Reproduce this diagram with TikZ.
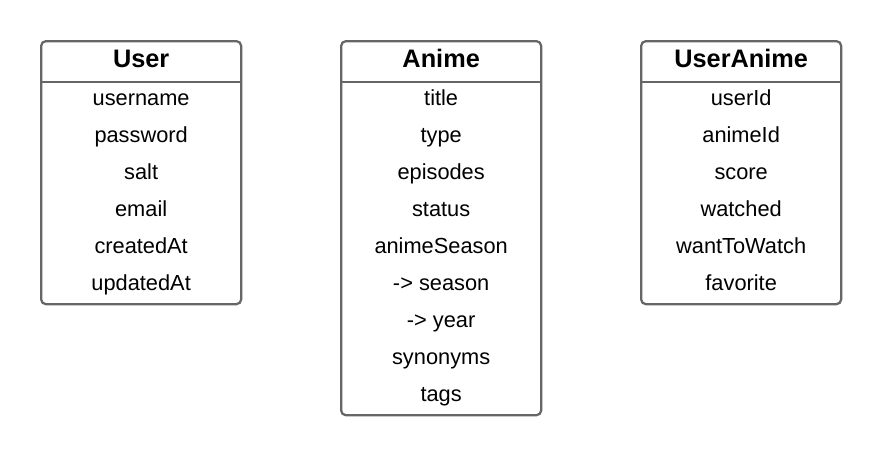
\documentclass[tikz,border=0pt]{standalone}
\usepackage{fontspec}
\setmainfont{Liberation Sans}
\usepackage{xcolor}
\usetikzlibrary{positioning,calc}

\definecolor{boxgray}{HTML}{666666}

\tikzset{
  entity/.style={draw=boxgray, line width=1.6pt, rounded corners=0.12cm,
    fill=white, minimum width=5cm, anchor=north west, inner sep=0pt},
  etitle/.style={font=\fontsize{18}{21}\selectfont\bfseries, text height=13pt,
    text depth=0pt, inner sep=0pt},
  efield/.style={font=\fontsize{15.5}{18}\selectfont, text height=11pt,
    text depth=3pt, inner sep=0pt}
}

\begin{document}
\begin{tikzpicture}[x=0.025cm, y=-0.025cm]
    \useasboundingbox (0,0) rectangle (880,455);

    % Tables
    \node[entity, minimum height=6.575cm] (user) at (40,40) {};
    \node[entity, minimum height=9.35cm] (anime) at (340,40) {};
    \node[entity, minimum height=6.575cm] (useranime) at (640,40) {};

    % Headers
    \node[etitle] (user-title) at ($(user.north)+(0,18)$) {User};
    \node[etitle] (anime-title) at ($(anime.north)+(0,18)$) {Anime};
    \node[etitle] (useranime-title) at ($(useranime.north)+(0,18)$) {UserAnime};
    \foreach \t in {user,anime,useranime} {
        \coordinate (\t-sep) at ($(\t.north)+(0,42)$);
        \draw[boxgray, line width=1.6pt] (\t.west |- \t-sep) -- (\t.east |- \t-sep);
    }

    % Fields
    \foreach \f [count=\i] in {username,password,salt,email,createdAt,updatedAt}
        \node[efield] (user-f\i) at ($(user-sep)+(0,{18+37*(\i-1)})$) {\f};
    \foreach \f [count=\i] in {title,type,episodes,status,animeSeason,-> season,-> year,synonyms,tags}
        \node[efield] (anime-f\i) at ($(anime-sep)+(0,{18+37*(\i-1)})$) {\f};
    \foreach \f [count=\i] in {userId,animeId,score,watched,wantToWatch,favorite}
        \node[efield] (useranime-f\i) at ($(useranime-sep)+(0,{18+37*(\i-1)})$) {\f};
\end{tikzpicture}
\end{document}
